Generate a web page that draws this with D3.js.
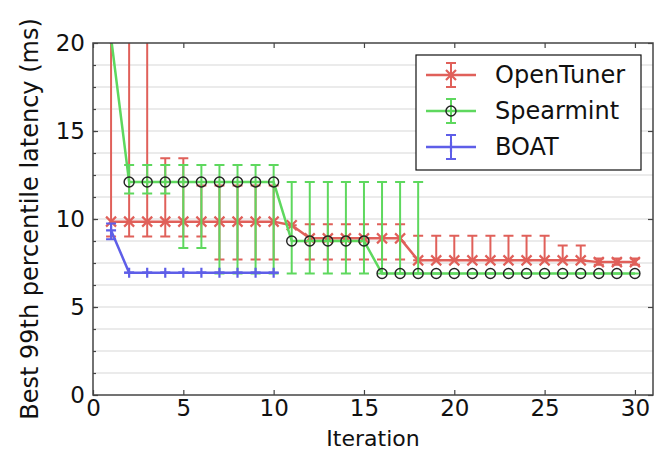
<!DOCTYPE html>
<html>
<head>
<meta charset="utf-8">
<script src="https://cdn.jsdelivr.net/npm/d3@7"></script>
<style>
  body { margin: 0; background: #fff; }
  text { font-family: "DejaVu Sans", sans-serif; }
</style>
</head>
<body>
<div id="wrapper"></div>
<script>
const iterations = [1,2,3,4,5,6,7,8,9,10,11,12,13,14,15,16,17,18,19,20,21,22,23,24,25,26,27,28,29,30];

const openTunerMean = [9.85,9.85,9.85,9.85,9.85,9.85,9.85,9.85,9.85,9.85,9.65,8.9,8.9,8.9,8.9,8.9,8.9,7.65,7.65,7.65,7.65,7.65,7.65,7.65,7.65,7.65,7.65,7.55,7.55,7.55];
const openTunerLow  = [9.0,9.0,9.0,9.0,9.0,9.0,7.7,7.7,7.7,7.7,9.65,7.7,7.7,7.7,7.7,7.7,7.7,7.65,7.65,7.65,7.65,7.65,7.65,7.65,7.65,7.65,7.65,7.4,7.4,7.4];
const openTunerHigh = [25,25,25,13.45,13.45,11.9,11.9,11.9,11.9,11.9,9.65,9.7,9.7,9.7,9.7,9.7,9.7,9.05,9.05,9.05,9.05,9.05,9.05,9.05,9.05,8.5,8.5,7.75,7.75,7.75];

const spearmintMean = [20.3,12.1,12.1,12.1,12.1,12.1,12.1,12.1,12.1,12.1,8.75,8.75,8.75,8.75,8.75,6.9,6.9,6.9,6.9,6.9,6.9,6.9,6.9,6.9,6.9,6.9,6.9,6.9,6.9,6.9];
const spearmintLow  = [20.3,11.45,11.45,11.45,8.35,8.35,6.9,6.9,6.9,6.9,6.9,6.9,6.9,6.9,6.9,6.9,6.9,6.9,6.9,6.9,6.9,6.9,6.9,6.9,6.9,6.9,6.9,6.9,6.9,6.9];
const spearmintHigh = [20.3,13.07,13.07,13.07,13.07,13.07,13.07,13.07,13.07,13.07,12.1,12.1,12.1,12.1,12.1,12.1,12.1,12.1,6.9,6.9,6.9,6.9,6.9,6.9,6.9,6.9,6.9,6.9,6.9,6.9];

const boatIterations = [1,2,3,4,5,6,7,8,9,10];
const boatMean = [9.35,6.95,6.95,6.95,6.95,6.95,6.95,6.95,6.95,6.95];
const boatLow  = [8.85,6.95,6.95,6.95,6.95,6.95,6.95,6.95,6.95,6.95];
const boatHigh = [9.75,6.95,6.95,6.95,6.95,6.95,6.95,6.95,6.95,6.95];

const xTicks = [0,5,10,15,20,25,30];
const yTicks = [0,5,10,15,20];
const yGrid = [1.25,2.5,3.75,5,6.25,7.5,8.75,10,11.25,12.5,13.75,15,16.25,17.5,18.75];

const colors = { red: "#e0605a", green: "#5ed85e", blue: "#5e5ee8" };

const dimensions = {
  width: 659,
  height: 451,
  margin: { top: 43, right: 6, bottom: 56, left: 93 },
};
dimensions.boundedWidth = dimensions.width - dimensions.margin.left - dimensions.margin.right;
dimensions.boundedHeight = dimensions.height - dimensions.margin.top - dimensions.margin.bottom;

const wrapper = d3.select("#wrapper")
  .append("svg")
    .attr("width", dimensions.width)
    .attr("height", dimensions.height);

const bounds = wrapper.append("g")
  .attr("transform", `translate(${dimensions.margin.left},${dimensions.margin.top})`);

const xScale = d3.scaleLinear().domain([0, 31]).range([0, dimensions.boundedWidth]);
const yScale = d3.scaleLinear().domain([0, 20]).range([dimensions.boundedHeight, 0]);

bounds.append("clipPath").attr("id", "clip")
  .append("rect")
    .attr("width", dimensions.boundedWidth)
    .attr("height", dimensions.boundedHeight);

// grid
bounds.append("g").selectAll("line")
  .data(yGrid)
  .join("line")
    .attr("x1", 0)
    .attr("x2", dimensions.boundedWidth)
    .attr("y1", d => yScale(d))
    .attr("y2", d => yScale(d))
    .attr("stroke", "#e4e4e4")
    .attr("stroke-width", 1.5);

const plot = bounds.append("g").attr("clip-path", "url(#clip)");

function toRows(xs, mean, low, high) {
  return xs.map((x, i) => ({ x, mean: mean[i], low: low[i], high: high[i] }));
}

const series = [
  { name: "OpenTuner", color: colors.red, marker: "x", rows: toRows(iterations, openTunerMean, openTunerLow, openTunerHigh) },
  { name: "Spearmint", color: colors.green, marker: "o", rows: toRows(iterations, spearmintMean, spearmintLow, spearmintHigh) },
  { name: "BOAT", color: colors.blue, marker: "+", rows: toRows(boatIterations, boatMean, boatLow, boatHigh) },
];

const cap = 5;

function drawMarker(g, type, color, cx, cy) {
  if (type === "x") {
    g.append("path")
      .attr("d", `M${cx-5},${cy-5}L${cx+5},${cy+5}M${cx-5},${cy+5}L${cx+5},${cy-5}`)
      .attr("stroke", color).attr("stroke-width", 2.2).attr("fill", "none");
  } else if (type === "o") {
    g.append("circle")
      .attr("cx", cx).attr("cy", cy).attr("r", 5)
      .attr("fill", "none").attr("stroke", "#222").attr("stroke-width", 1.4);
  } else {
    g.append("path")
      .attr("d", `M${cx-5},${cy}L${cx+5},${cy}M${cx},${cy-5}L${cx},${cy+5}`)
      .attr("stroke", color).attr("stroke-width", 2.2).attr("fill", "none");
  }
}

const line = d3.line().x(d => xScale(d.x)).y(d => yScale(d.mean));

series.forEach(s => {
  const g = plot.append("g");
  const bars = g.append("g").attr("stroke", s.color).attr("stroke-width", 2);
  bars.selectAll("line.bar")
    .data(s.rows)
    .join("line")
      .attr("class", "bar")
      .attr("x1", d => xScale(d.x)).attr("x2", d => xScale(d.x))
      .attr("y1", d => yScale(d.low)).attr("y2", d => yScale(d.high));
  bars.selectAll("path.cap")
    .data(s.rows)
    .join("path")
      .attr("class", "cap")
      .attr("d", d => {
        const x = xScale(d.x);
        return `M${x-cap},${yScale(d.low)}H${x+cap}M${x-cap},${yScale(d.high)}H${x+cap}`;
      });

  g.append("path")
    .datum(s.rows)
    .attr("d", line)
    .attr("fill", "none")
    .attr("stroke", s.color)
    .attr("stroke-width", 2.5);

  s.rows.forEach(d => drawMarker(g, s.marker, s.color, xScale(d.x), yScale(d.mean)));
});

// axes (ticks pointing inward, on all four sides)
const xAxis = bounds.append("g")
  .attr("transform", `translate(0,${dimensions.boundedHeight})`)
  .call(d3.axisBottom(xScale).tickValues(xTicks).tickSizeInner(-5).tickSizeOuter(0).tickPadding(5));
const xAxisTop = bounds.append("g")
  .call(d3.axisTop(xScale).tickValues(xTicks).tickSizeInner(-5).tickSizeOuter(0).tickFormat(""));
const yAxis = bounds.append("g")
  .call(d3.axisLeft(yScale).tickValues(yTicks).tickSizeInner(-5).tickSizeOuter(0).tickPadding(8));
const yAxisRight = bounds.append("g")
  .attr("transform", `translate(${dimensions.boundedWidth},0)`)
  .call(d3.axisRight(yScale).tickValues(yTicks).tickSizeInner(-5).tickSizeOuter(0).tickFormat(""));
const yMinor = bounds.append("g")
  .call(d3.axisLeft(yScale).tickValues(yGrid).tickSizeInner(-3).tickSizeOuter(0).tickFormat(""));

[xAxis, xAxisTop, yAxis, yAxisRight, yMinor].forEach(a => {
  a.select(".domain").remove();
  a.selectAll(".tick line").attr("stroke", "#444").attr("stroke-width", 1.2);
  a.selectAll(".tick text").attr("font-size", 23).attr("fill", "#111").attr("font-family", "DejaVu Sans");
});

bounds.append("rect")
  .attr("width", dimensions.boundedWidth)
  .attr("height", dimensions.boundedHeight)
  .attr("fill", "none")
  .attr("stroke", "#444")
  .attr("stroke-width", 1.5);

bounds.append("text")
  .attr("x", dimensions.boundedWidth / 2)
  .attr("y", dimensions.boundedHeight + 51)
  .attr("text-anchor", "middle")
  .attr("font-size", 22)
  .attr("fill", "#111")
  .text("Iteration");

bounds.append("text")
  .attr("transform", `translate(${-dimensions.margin.left + 30},${dimensions.boundedHeight / 2}) rotate(-90)`)
  .attr("text-anchor", "middle")
  .attr("dominant-baseline", "central")
  .attr("font-size", 24)
  .attr("fill", "#111")
  .text("Best 99th percentile latency (ms)");

// legend
const legend = wrapper.append("g").attr("transform", "translate(416,55)");
legend.append("rect")
  .attr("width", 225).attr("height", 115)
  .attr("fill", "#fff").attr("stroke", "#111").attr("stroke-width", 1.2);

series.forEach((s, i) => {
  const cy = 20 + i * 36;
  const item = legend.append("g");
  item.append("line")
    .attr("x1", 10).attr("x2", 60).attr("y1", cy).attr("y2", cy)
    .attr("stroke", s.color).attr("stroke-width", 2.5);
  item.append("path")
    .attr("d", `M35,${cy-12}V${cy+12}M${35-cap},${cy-12}H${35+cap}M${35-cap},${cy+12}H${35+cap}`)
    .attr("stroke", s.color).attr("stroke-width", 2).attr("fill", "none");
  drawMarker(item, s.marker, s.color, 35, cy);
  item.append("text")
    .attr("x", 79).attr("y", cy)
    .attr("dominant-baseline", "central")
    .attr("font-size", 24)
    .attr("fill", "#111")
    .text(s.name);
});
</script>
</body>
</html>
